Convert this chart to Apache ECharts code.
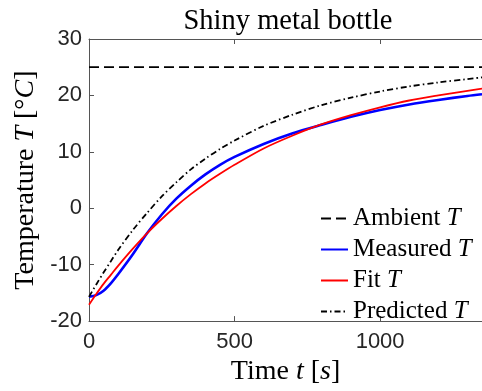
<!DOCTYPE html>
<html>
<head>
<meta charset="utf-8">
<script src="https://cdn.jsdelivr.net/npm/echarts@6/dist/echarts.min.js"></script>
<style>html,body{margin:0;padding:0;background:#fff;}#c{width:482px;height:391px;}</style>
</head>
<body>
<div id="c"></div>
<script>
const time      = [0, 25, 50, 75, 100, 150, 200, 250, 300, 350, 400, 450, 500, 600, 700, 800, 900, 1000, 1100, 1200, 1300, 1350];
const ambient   = [25, 25, 25, 25, 25, 25, 25, 25, 25, 25, 25, 25, 25, 25, 25, 25, 25, 25, 25, 25, 25, 25];
const measured  = [-15.7, -15.4, -14.6, -13.3, -11.7, -8.2, -4.4, -1.1, 1.7, 4.0, 6.0, 7.7, 9.1, 11.4, 13.3, 14.8, 16.2, 17.4, 18.4, 19.2, 19.9, 20.2];
const fit       = [-17.1, -15.2, -13.4, -11.8, -10.2, -7.2, -4.4, -1.9, 0.4, 2.5, 4.4, 6.1, 7.7, 10.6, 12.9, 14.9, 16.5, 17.9, 19.1, 20.0, 20.8, 21.2];
const predicted = [-15.7, -13.5, -11.4, -9.4, -7.4, -3.9, -0.8, 2.1, 4.6, 6.9, 8.8, 10.5, 12.0, 14.6, 16.6, 18.3, 19.6, 20.7, 21.6, 22.3, 22.9, 23.2];
const xTicks = [0, 500, 1000];
const yTicks = [-20, -10, 0, 10, 20, 30];
const seriesNames = ['Ambient', 'Measured', 'Fit', 'Predicted'];

const pair = (ys) => time.map((t, i) => [t, ys[i]]);
const serif = 'Liberation Serif';
const sans = 'Liberation Sans';
const axisCol = '#555555';
const txtCol = '#262626';
const labelSize = 28;

const chart = echarts.init(document.getElementById('c'), null, {renderer: 'canvas'});
chart.setOption({
  animation: false,
  title: {
    text: 'Shiny metal bottle',
    left: 283, textAlign: 'center', top: 2,
    textStyle: {fontFamily: serif, fontWeight: 'normal', fontSize: 28.5, color: '#000'}
  },
  grid: {left: 89, top: 39, bottom: 63, right: -4, containLabel: false},
  legend: {
    orient: 'vertical', left: 320, top: 206, padding: 0,
    itemWidth: 27, itemHeight: 14, itemGap: 6,
    itemStyle: {opacity: 0},
    data: seriesNames,
    formatter: (n) => n + ' {i|T}',
    textStyle: {
      fontFamily: serif, fontSize: 25, color: '#000', lineHeight: 23,
      rich: {i: {fontFamily: serif, fontStyle: 'italic', fontSize: 25, lineHeight: 23, color: '#000'}}
    }
  },
  xAxis: [{
    type: 'value', min: 0, max: 1350, interval: 500,
    name: 'Time {i|t} [{i|s}]', nameLocation: 'middle', nameGap: 27,
    nameTextStyle: {fontFamily: serif, fontSize: labelSize, color: '#000',
      rich: {i: {fontFamily: serif, fontStyle: 'italic', fontSize: labelSize, color: '#000'}}},
    axisLine: {show: true, onZero: false, lineStyle: {color: axisCol, width: 1}},
    axisTick: {show: true, inside: true, length: 5, lineStyle: {color: axisCol}},
    axisLabel: {fontFamily: sans, fontSize: 22, color: txtCol, margin: 10, showMaxLabel: false,
      formatter: (v) => xTicks.includes(v) ? String(v) : ''},
    splitLine: {show: false}
  }, {
    type: 'value', min: 0, max: 1350, interval: 500, position: 'top',
    axisLine: {show: true, onZero: false, lineStyle: {color: axisCol, width: 1}},
    axisTick: {show: true, inside: true, length: 5, lineStyle: {color: axisCol}},
    axisLabel: {show: false}, splitLine: {show: false}
  }],
  yAxis: [{
    type: 'value', min: -20, max: 30, interval: 10,
    name: 'Temperature {i|T} [°{i|C}]', nameLocation: 'middle', nameGap: 48, nameRotate: 90,
    nameTextStyle: {fontFamily: serif, fontSize: labelSize, color: '#000',
      rich: {i: {fontFamily: serif, fontStyle: 'italic', fontSize: labelSize, color: '#000'}}},
    axisLine: {show: true, onZero: false, lineStyle: {color: axisCol, width: 1}},
    axisTick: {show: true, inside: true, length: 5, lineStyle: {color: axisCol}},
    axisLabel: {fontFamily: sans, fontSize: 22, color: txtCol, margin: 7,
      formatter: (v) => yTicks.includes(v) ? String(v) : ''},
    splitLine: {show: false}
  }],
  series: [
    {name: 'Ambient', type: 'line', data: pair(ambient), symbol: 'none', color: '#000',
      lineStyle: {color: '#000', width: 1.8, type: [10, 5]}},
    {name: 'Measured', type: 'line', data: pair(measured), symbol: 'none', smooth: 0.3, color: '#0000ff',
      lineStyle: {color: '#0000ff', width: 2.6, type: 'solid'}},
    {name: 'Fit', type: 'line', data: pair(fit), symbol: 'none', smooth: 0.3, color: '#ff0000',
      lineStyle: {color: '#ff0000', width: 1.8, type: 'solid'}},
    {name: 'Predicted', type: 'line', data: pair(predicted), symbol: 'none', smooth: 0.3, color: '#000',
      lineStyle: {color: '#000', width: 1.8, type: [6, 3, 1.5, 3]}}
  ]
});
</script>
</body>
</html>
